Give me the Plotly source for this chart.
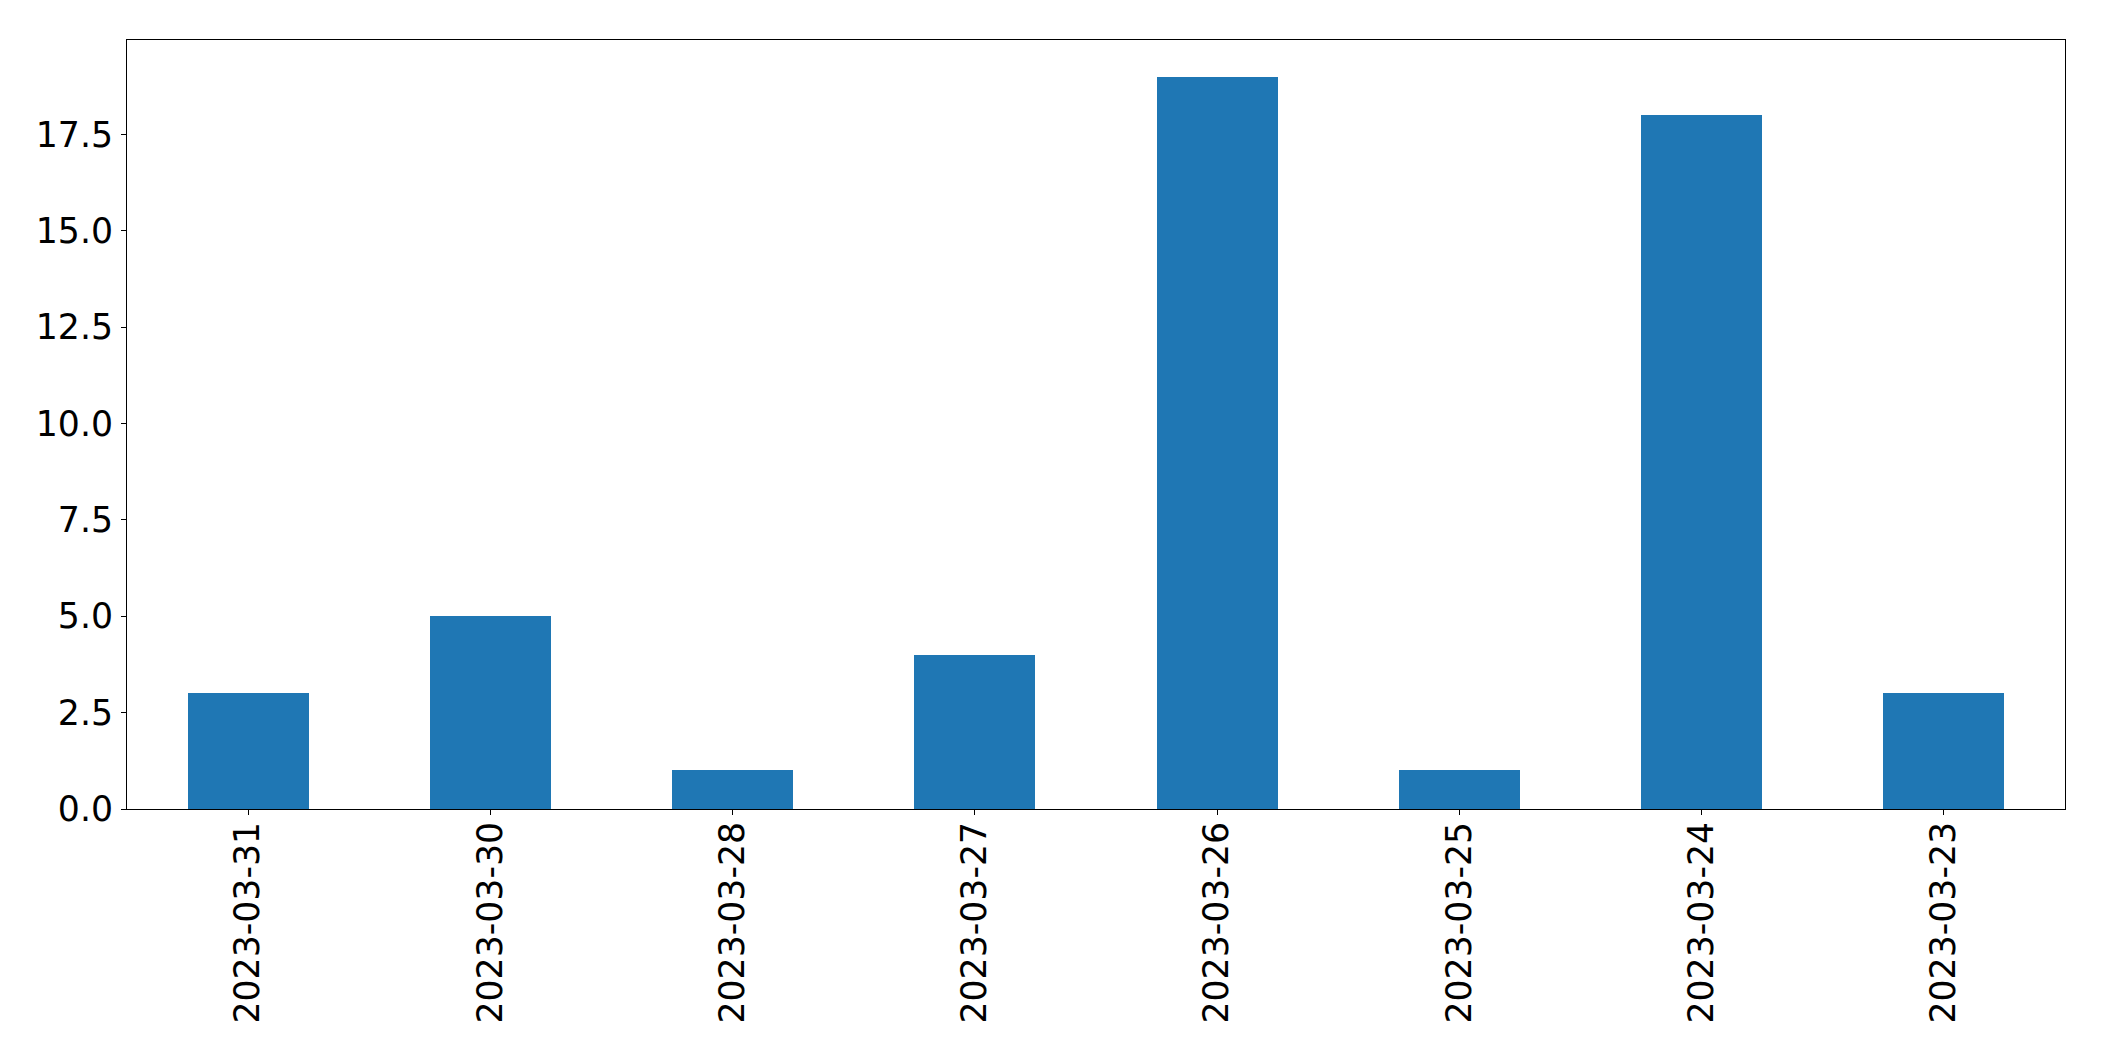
import plotly.graph_objects as go

dates = ["2023-03-31", "2023-03-30", "2023-03-28", "2023-03-27",
         "2023-03-26", "2023-03-25", "2023-03-24", "2023-03-23"]
counts = [3, 5, 1, 4, 19, 1, 18, 3]
y_ticks = [0.0, 2.5, 5.0, 7.5, 10.0, 12.5, 15.0, 17.5]
y_tick_labels = ["0.0", "2.5", "5.0", "7.5", "10.0", "12.5", "15.0", "17.5"]

fig = go.Figure(go.Bar(x=list(range(len(dates))), y=counts, width=0.5,
                       marker=dict(color="#1f77b4", line=dict(width=0))))

font = dict(family="DejaVu Sans", size=34.7, color="black")
fig.update_layout(
    width=2104, height=1061,
    margin=dict(l=119, r=47, t=32, b=260, autoexpand=False),
    plot_bgcolor="white", paper_bgcolor="white",
    showlegend=False, bargap=0,
    font=font,
)
fig.update_xaxes(
    range=[-0.5, len(dates) - 0.5],
    tickmode="array", tickvals=list(range(len(dates))), ticktext=dates,
    tickangle=-90, ticks="outside", ticklen=5, tickwidth=1.1, tickcolor="black",
    showline=True, linecolor="black", linewidth=1.1, mirror=True,
    showgrid=False, zeroline=False, tickfont=font, ticklabelstandoff=-7,
    automargin=False,
)
fig.update_yaxes(
    range=[0, max(counts) * 1.05],
    tickmode="array", tickvals=y_ticks, ticktext=y_tick_labels,
    ticks="outside", ticklen=5, tickwidth=1.1, tickcolor="black",
    showline=True, linecolor="black", linewidth=1.1, mirror=True,
    showgrid=False, zeroline=False, tickfont=font, ticklabelstandoff=1,
    automargin=False,
)
fig.write_html("out.html")
